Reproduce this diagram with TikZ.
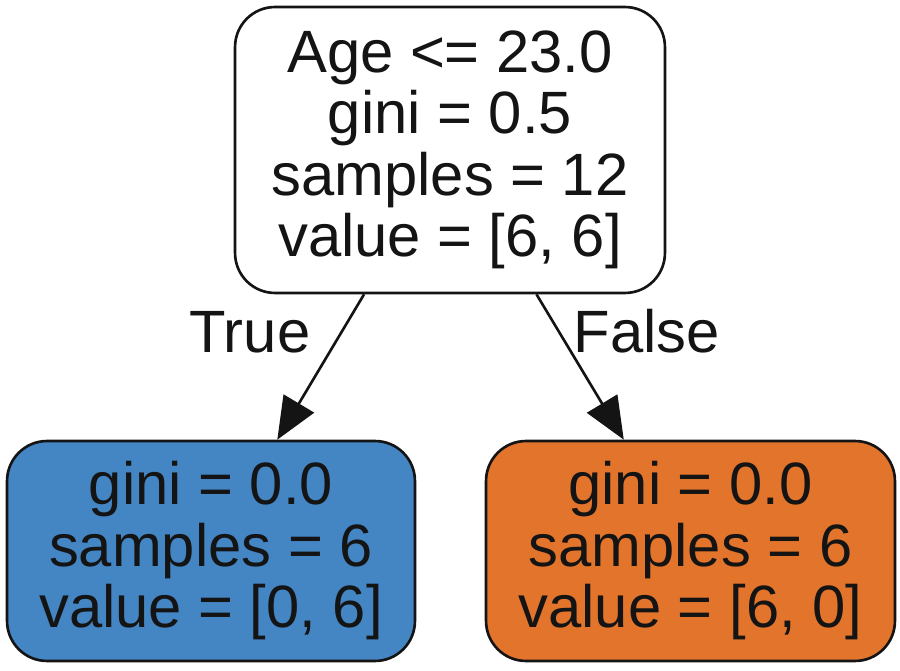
\documentclass[tikz,border=0pt]{standalone}
\usepackage{fontspec}
\setmainfont{Liberation Sans}
\usepackage{xcolor}
\usepackage{tikz}
\usetikzlibrary{arrows.meta}

\definecolor{leafblue}{HTML}{4485C4}
\definecolor{leaforange}{HTML}{E2742C}
\definecolor{inkblack}{HTML}{141414}

\begin{document}
\begin{tikzpicture}[x=0.02cm,y=0.02cm,
    treenode/.style={draw=inkblack,text=inkblack,line width=1.5pt,rounded corners=0.8cm,align=center,
        inner sep=0pt,font=\fontsize{34}{35}\selectfont},
    edge/.style={draw=inkblack,fill=inkblack,line width=1.5pt,-{Triangle[length=24pt,width=20pt]}},
    edgelabel/.style={anchor=base,text=inkblack,font=\fontsize{34}{35}\selectfont}]
    \useasboundingbox (0,0) rectangle (900,670);

    \node[treenode,fill=white,minimum width=8.6cm,minimum height=5.72cm] (root) at (450,520)
        {Age <= 23.0\\gini = 0.5\\samples = 12\\value = [6, 6]};

    \node[treenode,fill=leafblue,minimum width=8.16cm,minimum height=4.4cm] (left) at (211,119)
        {gini = 0.0\\samples = 6\\value = [0, 6]};
    \node[treenode,fill=leaforange,minimum width=8.18cm,minimum height=4.4cm] (right) at (690.5,119)
        {gini = 0.0\\samples = 6\\value = [6, 0]};

    \draw[edge] (root) -- (left);
    \draw[edge] (root) -- (right);

    \node[edgelabel] (truelabel) at (250,317) {True};
    \node[edgelabel] (falselabel) at (647,317) {False};
\end{tikzpicture}
\end{document}
